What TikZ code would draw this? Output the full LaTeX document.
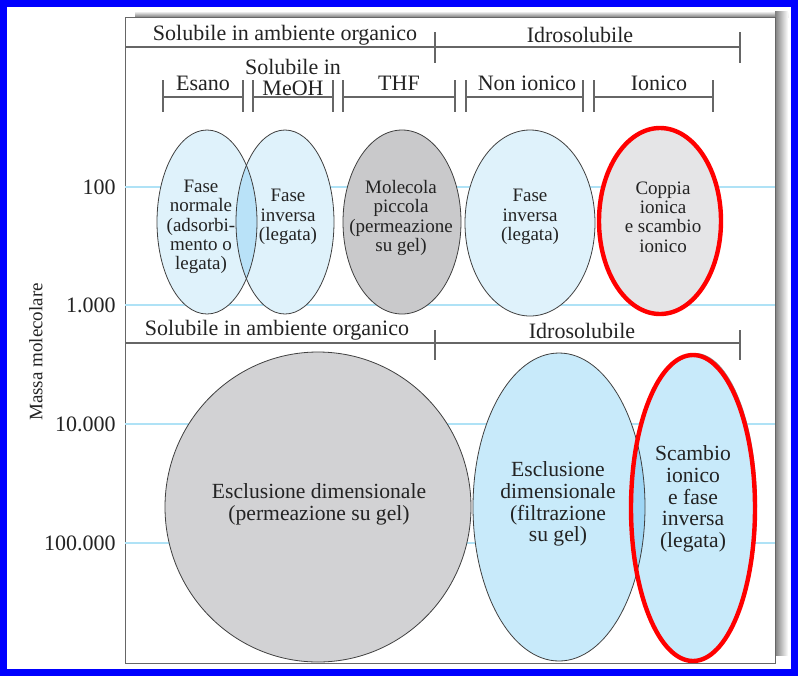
\documentclass[tikz,border=0pt]{standalone}
\usepackage{fontspec}
\setmainfont{Liberation Serif}
\usepackage{xcolor}
\usepackage{tikz}
\usetikzlibrary{shapes}
\definecolor{pale}{RGB}{223,242,251}
\definecolor{celeste}{RGB}{200,234,250}
\definecolor{mix}{RGB}{185,226,248}
\definecolor{mixb}{RGB}{158,214,245}
\definecolor{grigio}{RGB}{201,201,203}
\definecolor{grigiob}{RGB}{210,210,212}
\definecolor{chiaro}{RGB}{229,229,231}
\definecolor{griglia}{RGB}{175,226,246}
\definecolor{testo}{RGB}{35,35,35}

\begin{document}
\begin{tikzpicture}[x=0.5pt,y=-0.5pt,
bordo/.style={draw=black!75,line width=0.4pt},
rosso/.style={draw=red,line width=2.2pt},
tacca/.style={draw=black!60,line width=0.6pt},
titolo/.style={font=\fontsize{11}{11}\selectfont,text=testo,inner sep=0pt},
dentro/.style={align=center,text=testo,inner sep=0pt,font=\fontsize{9.5}{9.7}\selectfont},
grande/.style={align=center,text=testo,inner sep=0pt,font=\fontsize{10.8}{10.9}\selectfont}]
\useasboundingbox (0,0) rectangle (798,676);
\fill[white] (0,0) rectangle (798,676);
% ombra e pannello
\shade[top color=white,bottom color=black!50] (135,11) rectangle (788,17);
\shade[left color=black!50,right color=white] (775,11) rectangle (788,655);
\draw[black!60] (125,17) rectangle (775,663);
\foreach \y in {187,305,424,543}
\draw[griglia,line width=0.8pt] (125,\y) -- (775,\y);
\node[titolo,anchor=east] (m100) at (116,187) {100};
\node[titolo,anchor=east] (m1000) at (116,305) {1.000};
\node[titolo,anchor=east] (m10000) at (116,424) {10.000};
\node[titolo,anchor=east] (m100000) at (116,543) {100.000};
\node[rotate=90,text=testo,font=\fontsize{9.5}{10}\selectfont] (asse) at (36,352) {Massa molecolare};
% intestazioni
\draw[tacca] (125,47) -- (740,47);
\draw[tacca] (435,32) -- (435,63) (740,32) -- (740,63);
\node[titolo] (organico) at (285,35) {Solubile in ambiente organico};
\node[titolo] (idro) at (580,35) {Idrosolubile};
\foreach \a/\b in {163/243,253/333,343/455,466/583,594/713}
\draw[tacca] (\a,80) -- (\a,112) (\a,97) -- (\b,97) (\b,80) -- (\b,112);
\node[titolo] (esano) at (203,83) {Esano};
\node[titolo,align=center,font=\fontsize{11}{10.5}\selectfont] (meoh) at (293,77) {Solubile in\\MeOH};
\node[titolo] (thf) at (399,83) {THF};
\node[titolo] (nonionico) at (527,83) {Non ionico};
\node[titolo] (ionico) at (659,83) {Ionico};
\draw[tacca] (125,343) -- (740,343);
\draw[tacca] (435,330) -- (435,360) (740,330) -- (740,360);
\node[titolo] (organico2) at (277,330) {Solubile in ambiente organico};
\node[titolo] (idro2) at (582,331) {Idrosolubile};
% ellissi in alto
\fill[pale] (207,222) ellipse [x radius=50,y radius=92];
\fill[pale] (285,222) ellipse [x radius=49,y radius=92];
\begin{scope}
\clip (207,222) ellipse [x radius=50,y radius=92];
\fill[mix] (285,222) ellipse [x radius=49,y radius=92];
\end{scope}
\draw[bordo] (207,222) ellipse [x radius=50,y radius=92];
\draw[bordo] (285,222) ellipse [x radius=49,y radius=92];
\filldraw[fill=grigio,bordo] (402,222) ellipse [x radius=59,y radius=92];
\filldraw[fill=pale,bordo] (530,223) ellipse [x radius=65,y radius=93];
\filldraw[fill=chiaro,rosso] (660,221) ellipse [x radius=61,y radius=93];
% ellissi in basso
\filldraw[fill=grigiob,bordo] (318,507) ellipse [x radius=153,y radius=155];
\fill[black!45] (695,506) ellipse [x radius=62,y radius=153];
\fill[celeste] (559,507) ellipse [x radius=86,y radius=154];
\fill[celeste] (693,508) ellipse [x radius=62,y radius=153];
\begin{scope}
\clip (559,507) ellipse [x radius=86,y radius=154];
\fill[mixb] (693,508) ellipse [x radius=62,y radius=153];
\end{scope}
\draw[bordo] (559,507) ellipse [x radius=86,y radius=154];
\draw[rosso] (693,508) ellipse [x radius=62,y radius=153];
% testi
\node[dentro] (normale) at (201,227) {Fase\\normale\\(adsorbi-\\mento o\\legata)};
\node[dentro] (inversa) at (288,217) {Fase\\inversa\\(legata)};
\node[dentro] (piccola) at (401,218) {Molecola\\piccola\\(permeazione\\su gel)};
\node[dentro] (nonion) at (530,217) {Fase\\inversa\\(legata)};
\node[dentro] (coppia) at (663,217) {Coppia\\ionica\\e scambio\\ionico};
\node[grande] (esclusione) at (319,504) {Esclusione dimensionale\\(permeazione su gel)};
\node[grande] (filtrazione) at (558,504) {Esclusione\\dimensionale\\(filtrazione\\su gel)};
\node[grande] (scambio) at (693,499) {Scambio\\ionico\\e fase\\inversa\\(legata)};
% cornice blu
\draw[blue,line width=3.5pt] (3.5,3.5) rectangle (794.5,672.5);
\end{tikzpicture}
\end{document}
